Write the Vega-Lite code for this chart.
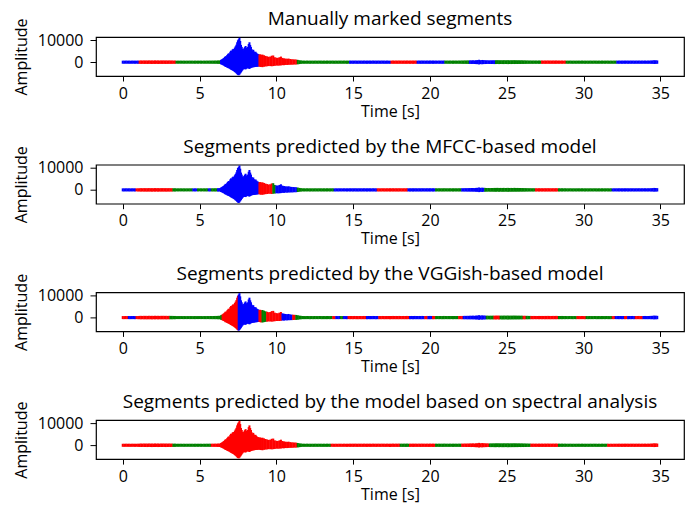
{
"$schema":"https://vega.github.io/schema/vega-lite/v6.json",
"padding":{"top":9,"left":12,"right":5,"bottom":0},
"bounds":"flush",
"spacing":88.7,
"config":{"font":"Open Sans","view":{"stroke":"#000","strokeWidth":1.2},
"axis":{"grid":false,"domain":false,"ticks":true,"tickColor":"#000","tickSize":5,"tickWidth":1,"labelFontSize":16,"titleFontSize":16,"labelColor":"#000","titleColor":"#000","titleFontWeight":"normal","labelPadding":4},
"axisY":{"titlePadding":8,"tickSize":6,"labelPadding":7},"axisX":{"titlePadding":2},
"title":{"fontSize":19,"fontWeight":"normal","color":"#000","offset":-11,"frame":"group","baseline":"alphabetic"}},
"data":{"values":[
{"t":0,"lo":-230,"hi":250,"m1":"b","m2":"b","m3":"r","m4":"r"},
{"t":0.1,"lo":-250,"hi":240,"m1":"b","m2":"b","m3":"r","m4":"r"},
{"t":0.2,"lo":-220,"hi":270,"m1":"b","m2":"b","m3":"r","m4":"r"},
{"t":0.3,"lo":-240,"hi":250,"m1":"b","m2":"b","m3":"r","m4":"r"},
{"t":0.4,"lo":-230,"hi":260,"m1":"b","m2":"b","m3":"b","m4":"r"},
{"t":0.5,"lo":-260,"hi":240,"m1":"b","m2":"b","m3":"b","m4":"r"},
{"t":0.6,"lo":-220,"hi":250,"m1":"b","m2":"b","m3":"b","m4":"r"},
{"t":0.7,"lo":-240,"hi":270,"m1":"b","m2":"b","m3":"b","m4":"r"},
{"t":0.8,"lo":-250,"hi":230,"m1":"b","m2":"b","m3":"b","m4":"r"},
{"t":0.9,"lo":-230,"hi":260,"m1":"b","m2":"r","m3":"r","m4":"r"},
{"t":1.0,"lo":-260,"hi":250,"m1":"b","m2":"r","m3":"r","m4":"r"},
{"t":1.1,"lo":-300,"hi":320,"m1":"r","m2":"r","m3":"r","m4":"r"},
{"t":1.2,"lo":-320,"hi":340,"m1":"r","m2":"r","m3":"r","m4":"r"},
{"t":1.3,"lo":-290,"hi":310,"m1":"r","m2":"r","m3":"r","m4":"r"},
{"t":1.4,"lo":-330,"hi":350,"m1":"r","m2":"r","m3":"r","m4":"r"},
{"t":1.5,"lo":-310,"hi":330,"m1":"r","m2":"r","m3":"r","m4":"r"},
{"t":1.6,"lo":-340,"hi":320,"m1":"r","m2":"r","m3":"r","m4":"r"},
{"t":1.7,"lo":-300,"hi":360,"m1":"r","m2":"r","m3":"r","m4":"r"},
{"t":1.8,"lo":-320,"hi":330,"m1":"r","m2":"r","m3":"r","m4":"r"},
{"t":1.9,"lo":-350,"hi":340,"m1":"r","m2":"r","m3":"r","m4":"r"},
{"t":2.0,"lo":-310,"hi":320,"m1":"r","m2":"r","m3":"r","m4":"r"},
{"t":2.1,"lo":-330,"hi":370,"m1":"r","m2":"r","m3":"r","m4":"r"},
{"t":2.2,"lo":-300,"hi":330,"m1":"r","m2":"r","m3":"r","m4":"r"},
{"t":2.3,"lo":-340,"hi":350,"m1":"r","m2":"r","m3":"r","m4":"r"},
{"t":2.4,"lo":-320,"hi":320,"m1":"r","m2":"r","m3":"r","m4":"r"},
{"t":2.5,"lo":-310,"hi":340,"m1":"r","m2":"r","m3":"r","m4":"r"},
{"t":2.6,"lo":-330,"hi":360,"m1":"r","m2":"r","m3":"r","m4":"r"},
{"t":2.7,"lo":-300,"hi":330,"m1":"r","m2":"r","m3":"r","m4":"r"},
{"t":2.8,"lo":-340,"hi":350,"m1":"r","m2":"r","m3":"r","m4":"r"},
{"t":2.9,"lo":-320,"hi":320,"m1":"r","m2":"r","m3":"r","m4":"r"},
{"t":3.0,"lo":-300,"hi":340,"m1":"r","m2":"r","m3":"r","m4":"r"},
{"t":3.1,"lo":-310,"hi":330,"m1":"r","m2":"r","m3":"g","m4":"r"},
{"t":3.2,"lo":-290,"hi":310,"m1":"r","m2":"r","m3":"g","m4":"r"},
{"t":3.3,"lo":-280,"hi":300,"m1":"r","m2":"g","m3":"g","m4":"g"},
{"t":3.4,"lo":-270,"hi":290,"m1":"r","m2":"g","m3":"g","m4":"g"},
{"t":3.5,"lo":-220,"hi":240,"m1":"g","m2":"g","m3":"g","m4":"g"},
{"t":3.6,"lo":-210,"hi":230,"m1":"g","m2":"g","m3":"g","m4":"g"},
{"t":3.7,"lo":-230,"hi":250,"m1":"g","m2":"g","m3":"g","m4":"g"},
{"t":3.8,"lo":-200,"hi":240,"m1":"g","m2":"g","m3":"g","m4":"g"},
{"t":3.9,"lo":-220,"hi":230,"m1":"g","m2":"g","m3":"g","m4":"g"},
{"t":4.0,"lo":-230,"hi":250,"m1":"g","m2":"g","m3":"g","m4":"g"},
{"t":4.1,"lo":-210,"hi":220,"m1":"g","m2":"g","m3":"g","m4":"g"},
{"t":4.2,"lo":-220,"hi":240,"m1":"g","m2":"g","m3":"g","m4":"g"},
{"t":4.3,"lo":-200,"hi":230,"m1":"g","m2":"g","m3":"g","m4":"g"},
{"t":4.4,"lo":-230,"hi":250,"m1":"g","m2":"g","m3":"g","m4":"g"},
{"t":4.5,"lo":-210,"hi":240,"m1":"g","m2":"g","m3":"g","m4":"g"},
{"t":4.6,"lo":-220,"hi":230,"m1":"g","m2":"b","m3":"g","m4":"g"},
{"t":4.7,"lo":-230,"hi":250,"m1":"g","m2":"b","m3":"g","m4":"g"},
{"t":4.8,"lo":-210,"hi":240,"m1":"g","m2":"b","m3":"g","m4":"g"},
{"t":4.9,"lo":-220,"hi":230,"m1":"g","m2":"g","m3":"g","m4":"g"},
{"t":5.0,"lo":-200,"hi":250,"m1":"g","m2":"g","m3":"g","m4":"g"},
{"t":5.1,"lo":-230,"hi":240,"m1":"g","m2":"g","m3":"g","m4":"g"},
{"t":5.2,"lo":-210,"hi":220,"m1":"g","m2":"g","m3":"g","m4":"g"},
{"t":5.3,"lo":-220,"hi":250,"m1":"g","m2":"g","m3":"g","m4":"g"},
{"t":5.4,"lo":-240,"hi":240,"m1":"g","m2":"g","m3":"g","m4":"g"},
{"t":5.5,"lo":-220,"hi":260,"m1":"g","m2":"g","m3":"g","m4":"g"},
{"t":5.6,"lo":-230,"hi":250,"m1":"g","m2":"b","m3":"g","m4":"g"},
{"t":5.7,"lo":-250,"hi":270,"m1":"g","m2":"b","m3":"g","m4":"g"},
{"t":5.8,"lo":-240,"hi":260,"m1":"g","m2":"g","m3":"g","m4":"r"},
{"t":5.9,"lo":-260,"hi":280,"m1":"g","m2":"g","m3":"g","m4":"r"},
{"t":6.0,"lo":-250,"hi":290,"m1":"g","m2":"g","m3":"g","m4":"r"},
{"t":6.1,"lo":-270,"hi":300,"m1":"g","m2":"g","m3":"g","m4":"r"},
{"t":6.2,"lo":-290,"hi":330,"m1":"g","m2":"b","m3":"g","m4":"r"},
{"t":6.3,"lo":-320,"hi":380,"m1":"g","m2":"b","m3":"g","m4":"r"},
{"t":6.4,"lo":-500,"hi":600,"m1":"b","m2":"b","m3":"g","m4":"r"},
{"t":6.45,"lo":-600,"hi":800,"m1":"b","m2":"b","m3":"g","m4":"r"},
{"t":6.5,"lo":-800,"hi":1000,"m1":"b","m2":"b","m3":"r","m4":"r"},
{"t":6.55,"lo":-1000,"hi":1300,"m1":"b","m2":"b","m3":"r","m4":"r"},
{"t":6.6,"lo":-1100,"hi":1500,"m1":"b","m2":"b","m3":"r","m4":"r"},
{"t":6.65,"lo":-1400,"hi":1900,"m1":"b","m2":"b","m3":"r","m4":"r"},
{"t":6.7,"lo":-1700,"hi":2300,"m1":"b","m2":"b","m3":"r","m4":"r"},
{"t":6.75,"lo":-1600,"hi":2100,"m1":"b","m2":"b","m3":"r","m4":"r"},
{"t":6.8,"lo":-2000,"hi":2800,"m1":"b","m2":"b","m3":"r","m4":"r"},
{"t":6.85,"lo":-2100,"hi":3200,"m1":"b","m2":"b","m3":"r","m4":"r"},
{"t":6.9,"lo":-2300,"hi":3600,"m1":"b","m2":"b","m3":"r","m4":"r"},
{"t":6.95,"lo":-2400,"hi":3300,"m1":"b","m2":"b","m3":"r","m4":"r"},
{"t":7.0,"lo":-2700,"hi":4300,"m1":"b","m2":"b","m3":"r","m4":"r"},
{"t":7.05,"lo":-2900,"hi":4800,"m1":"b","m2":"b","m3":"r","m4":"r"},
{"t":7.1,"lo":-3100,"hi":4500,"m1":"b","m2":"b","m3":"r","m4":"r"},
{"t":7.15,"lo":-3300,"hi":5300,"m1":"b","m2":"b","m3":"r","m4":"r"},
{"t":7.2,"lo":-3500,"hi":5600,"m1":"b","m2":"b","m3":"r","m4":"r"},
{"t":7.25,"lo":-3700,"hi":5200,"m1":"b","m2":"b","m3":"r","m4":"r"},
{"t":7.3,"lo":-4000,"hi":6200,"m1":"b","m2":"b","m3":"r","m4":"r"},
{"t":7.35,"lo":-4300,"hi":6800,"m1":"b","m2":"b","m3":"r","m4":"r"},
{"t":7.4,"lo":-4600,"hi":7500,"m1":"b","m2":"b","m3":"r","m4":"r"},
{"t":7.45,"lo":-5000,"hi":8600,"m1":"b","m2":"b","m3":"r","m4":"r"},
{"t":7.5,"lo":-5300,"hi":9500,"m1":"b","m2":"b","m3":"r","m4":"r"},
{"t":7.55,"lo":-5500,"hi":10000,"m1":"b","m2":"b","m3":"b","m4":"r"},
{"t":7.6,"lo":-5200,"hi":10650,"m1":"b","m2":"b","m3":"b","m4":"r"},
{"t":7.65,"lo":-4700,"hi":9200,"m1":"b","m2":"b","m3":"b","m4":"r"},
{"t":7.7,"lo":-4200,"hi":7400,"m1":"b","m2":"b","m3":"b","m4":"r"},
{"t":7.75,"lo":-3700,"hi":6500,"m1":"b","m2":"b","m3":"b","m4":"r"},
{"t":7.8,"lo":-3200,"hi":5600,"m1":"b","m2":"b","m3":"b","m4":"r"},
{"t":7.85,"lo":-2800,"hi":4900,"m1":"b","m2":"b","m3":"b","m4":"r"},
{"t":7.9,"lo":-2600,"hi":5800,"m1":"b","m2":"b","m3":"b","m4":"r"},
{"t":7.95,"lo":-2700,"hi":6400,"m1":"b","m2":"b","m3":"b","m4":"r"},
{"t":8.0,"lo":-2800,"hi":6900,"m1":"b","m2":"b","m3":"b","m4":"r"},
{"t":8.05,"lo":-2500,"hi":6100,"m1":"b","m2":"b","m3":"b","m4":"r"},
{"t":8.1,"lo":-2300,"hi":5300,"m1":"b","m2":"b","m3":"b","m4":"r"},
{"t":8.15,"lo":-2200,"hi":6500,"m1":"b","m2":"b","m3":"b","m4":"r"},
{"t":8.2,"lo":-2400,"hi":7800,"m1":"b","m2":"b","m3":"b","m4":"r"},
{"t":8.25,"lo":-2600,"hi":8600,"m1":"b","m2":"b","m3":"b","m4":"r"},
{"t":8.3,"lo":-2300,"hi":7400,"m1":"b","m2":"b","m3":"b","m4":"r"},
{"t":8.35,"lo":-2100,"hi":6500,"m1":"b","m2":"b","m3":"b","m4":"r"},
{"t":8.4,"lo":-2000,"hi":5400,"m1":"b","m2":"b","m3":"b","m4":"r"},
{"t":8.45,"lo":-1900,"hi":4700,"m1":"b","m2":"b","m3":"b","m4":"r"},
{"t":8.5,"lo":-1800,"hi":5200,"m1":"b","m2":"b","m3":"b","m4":"r"},
{"t":8.55,"lo":-1800,"hi":4400,"m1":"b","m2":"b","m3":"b","m4":"r"},
{"t":8.6,"lo":-1700,"hi":3900,"m1":"b","m2":"b","m3":"b","m4":"r"},
{"t":8.65,"lo":-1700,"hi":4300,"m1":"b","m2":"b","m3":"b","m4":"r"},
{"t":8.7,"lo":-1600,"hi":3800,"m1":"b","m2":"b","m3":"b","m4":"r"},
{"t":8.75,"lo":-1600,"hi":3400,"m1":"b","m2":"b","m3":"b","m4":"r"},
{"t":8.8,"lo":-1500,"hi":3300,"m1":"b","m2":"b","m3":"b","m4":"r"},
{"t":8.85,"lo":-1500,"hi":3100,"m1":"b","m2":"b","m3":"b","m4":"r"},
{"t":8.9,"lo":-1500,"hi":3000,"m1":"r","m2":"r","m3":"r","m4":"r"},
{"t":8.95,"lo":-1600,"hi":3100,"m1":"r","m2":"r","m3":"r","m4":"r"},
{"t":9.0,"lo":-1700,"hi":2900,"m1":"r","m2":"r","m3":"r","m4":"r"},
{"t":9.1,"lo":-1800,"hi":3000,"m1":"r","m2":"r","m3":"g","m4":"r"},
{"t":9.2,"lo":-1600,"hi":2700,"m1":"r","m2":"r","m3":"g","m4":"r"},
{"t":9.3,"lo":-1500,"hi":2400,"m1":"r","m2":"r","m3":"g","m4":"r"},
{"t":9.4,"lo":-1400,"hi":2200,"m1":"r","m2":"r","m3":"r","m4":"r"},
{"t":9.5,"lo":-1300,"hi":2000,"m1":"r","m2":"r","m3":"r","m4":"r"},
{"t":9.6,"lo":-1300,"hi":2100,"m1":"r","m2":"r","m3":"r","m4":"r"},
{"t":9.7,"lo":-1400,"hi":2500,"m1":"r","m2":"r","m3":"r","m4":"r"},
{"t":9.8,"lo":-1300,"hi":2600,"m1":"r","m2":"g","m3":"r","m4":"r"},
{"t":9.9,"lo":-1200,"hi":1800,"m1":"r","m2":"g","m3":"r","m4":"r"},
{"t":10.0,"lo":-1100,"hi":1600,"m1":"r","m2":"b","m3":"r","m4":"r"},
{"t":10.1,"lo":-1100,"hi":1500,"m1":"r","m2":"b","m3":"r","m4":"r"},
{"t":10.2,"lo":-1100,"hi":1800,"m1":"r","m2":"b","m3":"r","m4":"r"},
{"t":10.3,"lo":-1000,"hi":2100,"m1":"r","m2":"b","m3":"r","m4":"r"},
{"t":10.4,"lo":-900,"hi":1500,"m1":"r","m2":"b","m3":"b","m4":"r"},
{"t":10.5,"lo":-900,"hi":1300,"m1":"r","m2":"b","m3":"b","m4":"r"},
{"t":10.6,"lo":-800,"hi":1200,"m1":"r","m2":"b","m3":"b","m4":"r"},
{"t":10.7,"lo":-800,"hi":1100,"m1":"r","m2":"b","m3":"b","m4":"r"},
{"t":10.8,"lo":-750,"hi":1200,"m1":"r","m2":"b","m3":"b","m4":"r"},
{"t":10.9,"lo":-700,"hi":1000,"m1":"r","m2":"b","m3":"b","m4":"r"},
{"t":11.0,"lo":-700,"hi":900,"m1":"r","m2":"b","m3":"b","m4":"r"},
{"t":11.1,"lo":-650,"hi":850,"m1":"r","m2":"b","m3":"r","m4":"r"},
{"t":11.2,"lo":-600,"hi":800,"m1":"r","m2":"b","m3":"r","m4":"r"},
{"t":11.3,"lo":-600,"hi":750,"m1":"r","m2":"b","m3":"g","m4":"r"},
{"t":11.4,"lo":-500,"hi":600,"m1":"g","m2":"g","m3":"g","m4":"g"},
{"t":11.5,"lo":-400,"hi":450,"m1":"g","m2":"g","m3":"g","m4":"g"},
{"t":11.6,"lo":-300,"hi":350,"m1":"g","m2":"g","m3":"g","m4":"g"},
{"t":11.7,"lo":-250,"hi":280,"m1":"g","m2":"g","m3":"g","m4":"g"},
{"t":11.8,"lo":-230,"hi":250,"m1":"g","m2":"g","m3":"g","m4":"g"},
{"t":11.9,"lo":-250,"hi":240,"m1":"g","m2":"g","m3":"g","m4":"g"},
{"t":12.0,"lo":-220,"hi":270,"m1":"g","m2":"g","m3":"g","m4":"g"},
{"t":12.1,"lo":-240,"hi":250,"m1":"g","m2":"g","m3":"g","m4":"g"},
{"t":12.2,"lo":-260,"hi":240,"m1":"g","m2":"g","m3":"g","m4":"g"},
{"t":12.3,"lo":-230,"hi":260,"m1":"g","m2":"g","m3":"g","m4":"g"},
{"t":12.4,"lo":-250,"hi":230,"m1":"g","m2":"g","m3":"g","m4":"g"},
{"t":12.5,"lo":-240,"hi":270,"m1":"g","m2":"g","m3":"g","m4":"g"},
{"t":12.6,"lo":-230,"hi":250,"m1":"g","m2":"g","m3":"g","m4":"g"},
{"t":12.7,"lo":-250,"hi":240,"m1":"g","m2":"g","m3":"g","m4":"g"},
{"t":12.8,"lo":-220,"hi":270,"m1":"g","m2":"g","m3":"g","m4":"g"},
{"t":12.9,"lo":-240,"hi":250,"m1":"g","m2":"g","m3":"g","m4":"g"},
{"t":13.0,"lo":-260,"hi":240,"m1":"g","m2":"g","m3":"g","m4":"g"},
{"t":13.1,"lo":-230,"hi":260,"m1":"g","m2":"g","m3":"g","m4":"g"},
{"t":13.2,"lo":-250,"hi":230,"m1":"g","m2":"g","m3":"g","m4":"g"},
{"t":13.3,"lo":-240,"hi":270,"m1":"g","m2":"g","m3":"g","m4":"g"},
{"t":13.4,"lo":-230,"hi":250,"m1":"g","m2":"g","m3":"g","m4":"g"},
{"t":13.5,"lo":-250,"hi":240,"m1":"g","m2":"g","m3":"g","m4":"g"},
{"t":13.6,"lo":-220,"hi":270,"m1":"g","m2":"g","m3":"g","m4":"r"},
{"t":13.7,"lo":-240,"hi":250,"m1":"g","m2":"g","m3":"r","m4":"r"},
{"t":13.8,"lo":-260,"hi":240,"m1":"g","m2":"b","m3":"r","m4":"r"},
{"t":13.9,"lo":-230,"hi":260,"m1":"g","m2":"b","m3":"b","m4":"r"},
{"t":14.0,"lo":-250,"hi":230,"m1":"g","m2":"b","m3":"b","m4":"r"},
{"t":14.1,"lo":-240,"hi":270,"m1":"g","m2":"b","m3":"b","m4":"r"},
{"t":14.2,"lo":-230,"hi":250,"m1":"g","m2":"b","m3":"g","m4":"r"},
{"t":14.3,"lo":-250,"hi":240,"m1":"g","m2":"b","m3":"g","m4":"r"},
{"t":14.4,"lo":-220,"hi":270,"m1":"g","m2":"b","m3":"b","m4":"r"},
{"t":14.5,"lo":-240,"hi":250,"m1":"g","m2":"b","m3":"b","m4":"r"},
{"t":14.6,"lo":-260,"hi":240,"m1":"g","m2":"b","m3":"b","m4":"r"},
{"t":14.7,"lo":-230,"hi":260,"m1":"g","m2":"b","m3":"r","m4":"r"},
{"t":14.8,"lo":-260,"hi":270,"m1":"b","m2":"b","m3":"r","m4":"r"},
{"t":14.9,"lo":-250,"hi":280,"m1":"b","m2":"b","m3":"r","m4":"r"},
{"t":15.0,"lo":-270,"hi":260,"m1":"b","m2":"b","m3":"r","m4":"r"},
{"t":15.1,"lo":-240,"hi":290,"m1":"b","m2":"b","m3":"r","m4":"r"},
{"t":15.2,"lo":-260,"hi":270,"m1":"b","m2":"b","m3":"r","m4":"r"},
{"t":15.3,"lo":-280,"hi":260,"m1":"b","m2":"b","m3":"r","m4":"r"},
{"t":15.4,"lo":-250,"hi":280,"m1":"b","m2":"b","m3":"r","m4":"r"},
{"t":15.5,"lo":-260,"hi":270,"m1":"b","m2":"b","m3":"r","m4":"r"},
{"t":15.6,"lo":-270,"hi":260,"m1":"b","m2":"b","m3":"r","m4":"r"},
{"t":15.7,"lo":-250,"hi":290,"m1":"b","m2":"b","m3":"r","m4":"r"},
{"t":15.8,"lo":-260,"hi":270,"m1":"b","m2":"b","m3":"r","m4":"r"},
{"t":15.9,"lo":-280,"hi":260,"m1":"b","m2":"b","m3":"b","m4":"r"},
{"t":16.0,"lo":-250,"hi":280,"m1":"b","m2":"b","m3":"b","m4":"r"},
{"t":16.1,"lo":-260,"hi":270,"m1":"b","m2":"b","m3":"b","m4":"r"},
{"t":16.2,"lo":-270,"hi":260,"m1":"b","m2":"b","m3":"b","m4":"r"},
{"t":16.3,"lo":-240,"hi":290,"m1":"b","m2":"b","m3":"b","m4":"r"},
{"t":16.4,"lo":-260,"hi":270,"m1":"b","m2":"b","m3":"b","m4":"r"},
{"t":16.5,"lo":-280,"hi":260,"m1":"b","m2":"b","m3":"b","m4":"r"},
{"t":16.6,"lo":-250,"hi":280,"m1":"b","m2":"r","m3":"b","m4":"r"},
{"t":16.7,"lo":-260,"hi":270,"m1":"b","m2":"r","m3":"r","m4":"r"},
{"t":16.8,"lo":-270,"hi":260,"m1":"b","m2":"r","m3":"r","m4":"r"},
{"t":16.9,"lo":-250,"hi":290,"m1":"b","m2":"r","m3":"r","m4":"r"},
{"t":17.0,"lo":-260,"hi":270,"m1":"b","m2":"r","m3":"r","m4":"r"},
{"t":17.1,"lo":-280,"hi":260,"m1":"b","m2":"r","m3":"r","m4":"r"},
{"t":17.2,"lo":-250,"hi":280,"m1":"b","m2":"r","m3":"r","m4":"r"},
{"t":17.3,"lo":-260,"hi":270,"m1":"b","m2":"r","m3":"r","m4":"r"},
{"t":17.4,"lo":-270,"hi":260,"m1":"b","m2":"r","m3":"r","m4":"r"},
{"t":17.5,"lo":-270,"hi":280,"m1":"r","m2":"r","m3":"r","m4":"r"},
{"t":17.6,"lo":-260,"hi":300,"m1":"r","m2":"r","m3":"r","m4":"r"},
{"t":17.7,"lo":-280,"hi":270,"m1":"r","m2":"r","m3":"r","m4":"r"},
{"t":17.8,"lo":-260,"hi":290,"m1":"r","m2":"r","m3":"r","m4":"r"},
{"t":17.9,"lo":-290,"hi":280,"m1":"r","m2":"r","m3":"r","m4":"r"},
{"t":18.0,"lo":-270,"hi":300,"m1":"r","m2":"r","m3":"r","m4":"r"},
{"t":18.1,"lo":-260,"hi":280,"m1":"r","m2":"r","m3":"r","m4":"g"},
{"t":18.2,"lo":-280,"hi":270,"m1":"r","m2":"r","m3":"r","m4":"g"},
{"t":18.3,"lo":-260,"hi":290,"m1":"r","m2":"r","m3":"r","m4":"g"},
{"t":18.4,"lo":-290,"hi":280,"m1":"r","m2":"r","m3":"r","m4":"g"},
{"t":18.5,"lo":-270,"hi":300,"m1":"r","m2":"r","m3":"r","m4":"g"},
{"t":18.6,"lo":-260,"hi":280,"m1":"r","m2":"b","m3":"r","m4":"g"},
{"t":18.7,"lo":-280,"hi":270,"m1":"r","m2":"b","m3":"b","m4":"r"},
{"t":18.8,"lo":-260,"hi":290,"m1":"r","m2":"b","m3":"b","m4":"r"},
{"t":18.9,"lo":-290,"hi":280,"m1":"r","m2":"b","m3":"b","m4":"r"},
{"t":19.0,"lo":-270,"hi":300,"m1":"r","m2":"b","m3":"b","m4":"r"},
{"t":19.1,"lo":-260,"hi":280,"m1":"r","m2":"b","m3":"b","m4":"r"},
{"t":19.2,"lo":-280,"hi":270,"m1":"b","m2":"b","m3":"b","m4":"r"},
{"t":19.3,"lo":-260,"hi":290,"m1":"b","m2":"b","m3":"b","m4":"r"},
{"t":19.4,"lo":-290,"hi":280,"m1":"b","m2":"b","m3":"b","m4":"r"},
{"t":19.5,"lo":-270,"hi":300,"m1":"b","m2":"b","m3":"b","m4":"r"},
{"t":19.6,"lo":-260,"hi":280,"m1":"b","m2":"b","m3":"b","m4":"r"},
{"t":19.7,"lo":-280,"hi":270,"m1":"b","m2":"b","m3":"r","m4":"r"},
{"t":19.8,"lo":-260,"hi":290,"m1":"b","m2":"b","m3":"r","m4":"r"},
{"t":19.9,"lo":-290,"hi":280,"m1":"b","m2":"b","m3":"b","m4":"r"},
{"t":20.0,"lo":-270,"hi":300,"m1":"b","m2":"b","m3":"b","m4":"r"},
{"t":20.1,"lo":-260,"hi":280,"m1":"b","m2":"b","m3":"b","m4":"r"},
{"t":20.2,"lo":-280,"hi":290,"m1":"b","m2":"b","m3":"r","m4":"r"},
{"t":20.3,"lo":-270,"hi":280,"m1":"b","m2":"b","m3":"r","m4":"r"},
{"t":20.4,"lo":-250,"hi":270,"m1":"b","m2":"g","m3":"g","m4":"g"},
{"t":20.5,"lo":-240,"hi":260,"m1":"b","m2":"g","m3":"g","m4":"g"},
{"t":20.6,"lo":-260,"hi":280,"m1":"b","m2":"g","m3":"g","m4":"g"},
{"t":20.7,"lo":-250,"hi":270,"m1":"b","m2":"g","m3":"g","m4":"g"},
{"t":20.8,"lo":-270,"hi":260,"m1":"b","m2":"g","m3":"g","m4":"g"},
{"t":20.9,"lo":-260,"hi":300,"m1":"b","m2":"g","m3":"g","m4":"g"},
{"t":21.0,"lo":-250,"hi":280,"m1":"g","m2":"g","m3":"g","m4":"g"},
{"t":21.1,"lo":-240,"hi":260,"m1":"g","m2":"g","m3":"g","m4":"g"},
{"t":21.2,"lo":-260,"hi":270,"m1":"g","m2":"g","m3":"g","m4":"g"},
{"t":21.3,"lo":-250,"hi":280,"m1":"g","m2":"g","m3":"g","m4":"g"},
{"t":21.4,"lo":-240,"hi":260,"m1":"g","m2":"g","m3":"g","m4":"g"},
{"t":21.5,"lo":-270,"hi":270,"m1":"g","m2":"g","m3":"g","m4":"g"},
{"t":21.6,"lo":-250,"hi":280,"m1":"g","m2":"g","m3":"g","m4":"g"},
{"t":21.7,"lo":-240,"hi":260,"m1":"g","m2":"g","m3":"g","m4":"g"},
{"t":21.8,"lo":-260,"hi":270,"m1":"g","m2":"g","m3":"g","m4":"g"},
{"t":21.9,"lo":-250,"hi":280,"m1":"g","m2":"g","m3":"r","m4":"g"},
{"t":22.0,"lo":-270,"hi":290,"m1":"g","m2":"g","m3":"r","m4":"g"},
{"t":22.1,"lo":-280,"hi":300,"m1":"g","m2":"b","m3":"r","m4":"r"},
{"t":22.2,"lo":-300,"hi":320,"m1":"g","m2":"b","m3":"b","m4":"r"},
{"t":22.3,"lo":-290,"hi":340,"m1":"g","m2":"b","m3":"b","m4":"r"},
{"t":22.4,"lo":-310,"hi":330,"m1":"g","m2":"b","m3":"b","m4":"r"},
{"t":22.5,"lo":-330,"hi":360,"m1":"g","m2":"b","m3":"b","m4":"r"},
{"t":22.6,"lo":-320,"hi":380,"m1":"b","m2":"b","m3":"b","m4":"r"},
{"t":22.7,"lo":-350,"hi":400,"m1":"b","m2":"b","m3":"b","m4":"r"},
{"t":22.8,"lo":-330,"hi":420,"m1":"b","m2":"b","m3":"b","m4":"r"},
{"t":22.9,"lo":-370,"hi":380,"m1":"b","m2":"b","m3":"b","m4":"r"},
{"t":23.0,"lo":-400,"hi":450,"m1":"b","m2":"b","m3":"b","m4":"r"},
{"t":23.1,"lo":-450,"hi":520,"m1":"b","m2":"b","m3":"b","m4":"r"},
{"t":23.2,"lo":-550,"hi":650,"m1":"b","m2":"b","m3":"b","m4":"r"},
{"t":23.3,"lo":-420,"hi":480,"m1":"b","m2":"b","m3":"b","m4":"r"},
{"t":23.4,"lo":-480,"hi":560,"m1":"b","m2":"b","m3":"b","m4":"r"},
{"t":23.5,"lo":-400,"hi":500,"m1":"b","m2":"b","m3":"b","m4":"r"},
{"t":23.6,"lo":-380,"hi":450,"m1":"b","m2":"g","m3":"b","m4":"r"},
{"t":23.7,"lo":-350,"hi":420,"m1":"b","m2":"g","m3":"g","m4":"r"},
{"t":23.8,"lo":-330,"hi":400,"m1":"b","m2":"g","m3":"g","m4":"r"},
{"t":23.9,"lo":-350,"hi":380,"m1":"b","m2":"g","m3":"g","m4":"g"},
{"t":24.0,"lo":-370,"hi":420,"m1":"b","m2":"g","m3":"g","m4":"g"},
{"t":24.1,"lo":-340,"hi":400,"m1":"b","m2":"g","m3":"g","m4":"g"},
{"t":24.2,"lo":-400,"hi":450,"m1":"b","m2":"g","m3":"r","m4":"g"},
{"t":24.3,"lo":-380,"hi":430,"m1":"g","m2":"g","m3":"r","m4":"g"},
{"t":24.4,"lo":-350,"hi":480,"m1":"g","m2":"g","m3":"r","m4":"g"},
{"t":24.5,"lo":-400,"hi":420,"m1":"g","m2":"g","m3":"r","m4":"g"},
{"t":24.6,"lo":-360,"hi":450,"m1":"g","m2":"g","m3":"g","m4":"g"},
{"t":24.7,"lo":-380,"hi":400,"m1":"g","m2":"g","m3":"g","m4":"g"},
{"t":24.8,"lo":-400,"hi":470,"m1":"g","m2":"g","m3":"g","m4":"g"},
{"t":24.9,"lo":-350,"hi":420,"m1":"g","m2":"g","m3":"g","m4":"g"},
{"t":25.0,"lo":-380,"hi":440,"m1":"g","m2":"g","m3":"g","m4":"g"},
{"t":25.1,"lo":-420,"hi":460,"m1":"g","m2":"g","m3":"g","m4":"g"},
{"t":25.2,"lo":-360,"hi":400,"m1":"g","m2":"g","m3":"g","m4":"g"},
{"t":25.3,"lo":-390,"hi":450,"m1":"g","m2":"g","m3":"g","m4":"g"},
{"t":25.4,"lo":-350,"hi":420,"m1":"g","m2":"g","m3":"g","m4":"g"},
{"t":25.5,"lo":-380,"hi":480,"m1":"g","m2":"g","m3":"g","m4":"g"},
{"t":25.6,"lo":-340,"hi":410,"m1":"g","m2":"g","m3":"g","m4":"g"},
{"t":25.7,"lo":-370,"hi":440,"m1":"g","m2":"g","m3":"g","m4":"g"},
{"t":25.8,"lo":-330,"hi":400,"m1":"g","m2":"g","m3":"g","m4":"g"},
{"t":25.9,"lo":-350,"hi":420,"m1":"g","m2":"g","m3":"g","m4":"g"},
{"t":26.0,"lo":-320,"hi":390,"m1":"g","m2":"g","m3":"g","m4":"g"},
{"t":26.1,"lo":-340,"hi":380,"m1":"g","m2":"g","m3":"r","m4":"g"},
{"t":26.2,"lo":-310,"hi":360,"m1":"g","m2":"g","m3":"r","m4":"g"},
{"t":26.3,"lo":-300,"hi":340,"m1":"g","m2":"g","m3":"g","m4":"g"},
{"t":26.4,"lo":-290,"hi":320,"m1":"g","m2":"g","m3":"g","m4":"g"},
{"t":26.5,"lo":-280,"hi":310,"m1":"g","m2":"g","m3":"g","m4":"g"},
{"t":26.6,"lo":-270,"hi":300,"m1":"g","m2":"g","m3":"r","m4":"r"},
{"t":26.7,"lo":-280,"hi":290,"m1":"g","m2":"g","m3":"r","m4":"r"},
{"t":26.8,"lo":-260,"hi":300,"m1":"g","m2":"g","m3":"r","m4":"r"},
{"t":26.9,"lo":-270,"hi":290,"m1":"g","m2":"r","m3":"r","m4":"r"},
{"t":27.0,"lo":-260,"hi":280,"m1":"g","m2":"r","m3":"r","m4":"r"},
{"t":27.1,"lo":-280,"hi":300,"m1":"g","m2":"r","m3":"r","m4":"r"},
{"t":27.2,"lo":-270,"hi":290,"m1":"g","m2":"r","m3":"r","m4":"r"},
{"t":27.3,"lo":-280,"hi":300,"m1":"r","m2":"r","m3":"r","m4":"r"},
{"t":27.4,"lo":-270,"hi":290,"m1":"r","m2":"r","m3":"r","m4":"r"},
{"t":27.5,"lo":-290,"hi":310,"m1":"r","m2":"r","m3":"r","m4":"r"},
{"t":27.6,"lo":-280,"hi":300,"m1":"r","m2":"r","m3":"r","m4":"r"},
{"t":27.7,"lo":-270,"hi":320,"m1":"r","m2":"r","m3":"r","m4":"r"},
{"t":27.8,"lo":-290,"hi":300,"m1":"r","m2":"r","m3":"r","m4":"r"},
{"t":27.9,"lo":-280,"hi":290,"m1":"r","m2":"r","m3":"r","m4":"r"},
{"t":28.0,"lo":-270,"hi":310,"m1":"r","m2":"r","m3":"r","m4":"r"},
{"t":28.1,"lo":-290,"hi":300,"m1":"r","m2":"r","m3":"r","m4":"r"},
{"t":28.2,"lo":-280,"hi":320,"m1":"r","m2":"r","m3":"r","m4":"r"},
{"t":28.3,"lo":-270,"hi":300,"m1":"r","m2":"r","m3":"r","m4":"r"},
{"t":28.4,"lo":-260,"hi":280,"m1":"r","m2":"g","m3":"g","m4":"g"},
{"t":28.5,"lo":-250,"hi":270,"m1":"r","m2":"g","m3":"g","m4":"g"},
{"t":28.6,"lo":-260,"hi":290,"m1":"r","m2":"g","m3":"g","m4":"g"},
{"t":28.7,"lo":-240,"hi":260,"m1":"r","m2":"g","m3":"g","m4":"g"},
{"t":28.8,"lo":-250,"hi":280,"m1":"r","m2":"g","m3":"g","m4":"g"},
{"t":28.9,"lo":-230,"hi":250,"m1":"g","m2":"g","m3":"g","m4":"g"},
{"t":29.0,"lo":-250,"hi":240,"m1":"g","m2":"g","m3":"g","m4":"g"},
{"t":29.1,"lo":-220,"hi":270,"m1":"g","m2":"g","m3":"g","m4":"g"},
{"t":29.2,"lo":-240,"hi":250,"m1":"g","m2":"g","m3":"g","m4":"g"},
{"t":29.3,"lo":-260,"hi":240,"m1":"g","m2":"g","m3":"g","m4":"g"},
{"t":29.4,"lo":-230,"hi":260,"m1":"g","m2":"g","m3":"g","m4":"g"},
{"t":29.5,"lo":-250,"hi":230,"m1":"g","m2":"g","m3":"g","m4":"g"},
{"t":29.6,"lo":-240,"hi":270,"m1":"g","m2":"g","m3":"r","m4":"g"},
{"t":29.7,"lo":-230,"hi":250,"m1":"g","m2":"g","m3":"r","m4":"g"},
{"t":29.8,"lo":-250,"hi":240,"m1":"g","m2":"g","m3":"r","m4":"g"},
{"t":29.9,"lo":-220,"hi":270,"m1":"g","m2":"g","m3":"r","m4":"g"},
{"t":30.0,"lo":-240,"hi":250,"m1":"g","m2":"g","m3":"r","m4":"g"},
{"t":30.1,"lo":-260,"hi":240,"m1":"g","m2":"g","m3":"r","m4":"g"},
{"t":30.2,"lo":-230,"hi":260,"m1":"g","m2":"g","m3":"g","m4":"g"},
{"t":30.3,"lo":-250,"hi":230,"m1":"g","m2":"g","m3":"g","m4":"g"},
{"t":30.4,"lo":-240,"hi":270,"m1":"g","m2":"g","m3":"g","m4":"g"},
{"t":30.5,"lo":-230,"hi":250,"m1":"g","m2":"g","m3":"g","m4":"g"},
{"t":30.6,"lo":-250,"hi":240,"m1":"g","m2":"g","m3":"g","m4":"g"},
{"t":30.7,"lo":-220,"hi":270,"m1":"g","m2":"g","m3":"g","m4":"g"},
{"t":30.8,"lo":-240,"hi":250,"m1":"g","m2":"g","m3":"g","m4":"g"},
{"t":30.9,"lo":-260,"hi":240,"m1":"g","m2":"g","m3":"g","m4":"g"},
{"t":31.0,"lo":-230,"hi":260,"m1":"g","m2":"g","m3":"g","m4":"g"},
{"t":31.1,"lo":-250,"hi":230,"m1":"g","m2":"g","m3":"g","m4":"g"},
{"t":31.2,"lo":-240,"hi":270,"m1":"g","m2":"g","m3":"g","m4":"g"},
{"t":31.3,"lo":-230,"hi":250,"m1":"g","m2":"g","m3":"g","m4":"g"},
{"t":31.4,"lo":-250,"hi":240,"m1":"g","m2":"g","m3":"g","m4":"g"},
{"t":31.5,"lo":-220,"hi":270,"m1":"g","m2":"g","m3":"g","m4":"g"},
{"t":31.6,"lo":-240,"hi":250,"m1":"g","m2":"g","m3":"g","m4":"r"},
{"t":31.7,"lo":-260,"hi":240,"m1":"g","m2":"g","m3":"g","m4":"r"},
{"t":31.8,"lo":-230,"hi":260,"m1":"g","m2":"g","m3":"g","m4":"r"},
{"t":31.9,"lo":-250,"hi":230,"m1":"g","m2":"b","m3":"r","m4":"r"},
{"t":32.0,"lo":-240,"hi":270,"m1":"g","m2":"b","m3":"r","m4":"r"},
{"t":32.1,"lo":-230,"hi":250,"m1":"g","m2":"b","m3":"b","m4":"r"},
{"t":32.2,"lo":-250,"hi":260,"m1":"b","m2":"b","m3":"b","m4":"r"},
{"t":32.3,"lo":-260,"hi":280,"m1":"b","m2":"b","m3":"b","m4":"r"},
{"t":32.4,"lo":-240,"hi":270,"m1":"b","m2":"b","m3":"b","m4":"r"},
{"t":32.5,"lo":-270,"hi":260,"m1":"b","m2":"b","m3":"b","m4":"r"},
{"t":32.6,"lo":-250,"hi":280,"m1":"b","m2":"b","m3":"b","m4":"r"},
{"t":32.7,"lo":-260,"hi":270,"m1":"b","m2":"b","m3":"r","m4":"r"},
{"t":32.8,"lo":-240,"hi":290,"m1":"b","m2":"b","m3":"r","m4":"r"},
{"t":32.9,"lo":-270,"hi":260,"m1":"b","m2":"b","m3":"b","m4":"r"},
{"t":33.0,"lo":-250,"hi":280,"m1":"b","m2":"b","m3":"b","m4":"r"},
{"t":33.1,"lo":-260,"hi":270,"m1":"b","m2":"b","m3":"b","m4":"r"},
{"t":33.2,"lo":-240,"hi":290,"m1":"b","m2":"b","m3":"b","m4":"r"},
{"t":33.3,"lo":-270,"hi":260,"m1":"b","m2":"b","m3":"b","m4":"r"},
{"t":33.4,"lo":-250,"hi":280,"m1":"b","m2":"b","m3":"r","m4":"r"},
{"t":33.5,"lo":-260,"hi":270,"m1":"b","m2":"b","m3":"r","m4":"r"},
{"t":33.6,"lo":-240,"hi":290,"m1":"b","m2":"b","m3":"r","m4":"r"},
{"t":33.7,"lo":-270,"hi":260,"m1":"b","m2":"b","m3":"r","m4":"r"},
{"t":33.8,"lo":-250,"hi":280,"m1":"b","m2":"b","m3":"r","m4":"r"},
{"t":33.9,"lo":-260,"hi":270,"m1":"b","m2":"b","m3":"b","m4":"r"},
{"t":34.0,"lo":-240,"hi":290,"m1":"b","m2":"b","m3":"b","m4":"r"},
{"t":34.1,"lo":-270,"hi":260,"m1":"b","m2":"b","m3":"b","m4":"r"},
{"t":34.2,"lo":-250,"hi":280,"m1":"b","m2":"b","m3":"b","m4":"r"},
{"t":34.3,"lo":-260,"hi":300,"m1":"b","m2":"b","m3":"b","m4":"r"},
{"t":34.4,"lo":-280,"hi":320,"m1":"b","m2":"b","m3":"b","m4":"r"},
{"t":34.5,"lo":-300,"hi":380,"m1":"b","m2":"b","m3":"b","m4":"r"},
{"t":34.6,"lo":-350,"hi":450,"m1":"b","m2":"b","m3":"b","m4":"r"},
{"t":34.7,"lo":-320,"hi":420,"m1":"b","m2":"b","m3":"b","m4":"r"},
{"t":34.8,"lo":-280,"hi":350,"m1":"b","m2":"b","m3":"b","m4":"r"}
]},
"vconcat":[
{"title":"Manually marked segments","width":588,"height":39,
"mark":{"type":"rule","strokeWidth":2,"strokeCap":"square"},
"encoding":{
"x":{"field":"t","type":"quantitative","scale":{"domain":[-1.74,36.54],"nice":false,"zero":false},"axis":{"values":[0,5,10,15,20,25,30,35],"title":"Time [s]"}},
"y":{"field":"lo","type":"quantitative","scale":{"domain":[-6270,11450],"nice":false,"zero":false},"axis":{"values":[0,10000],"format":"d","title":"Amplitude"}},
"y2":{"field":"hi"},
"color":{"field":"m1","type":"nominal","scale":{"domain":["b","g","r"],"range":["#0000ff","#008000","#ff0000"]},"legend":null}}},
{"title":"Segments predicted by the MFCC-based model","width":588,"height":39,
"mark":{"type":"rule","strokeWidth":2,"strokeCap":"square"},
"encoding":{
"x":{"field":"t","type":"quantitative","scale":{"domain":[-1.74,36.54],"nice":false,"zero":false},"axis":{"values":[0,5,10,15,20,25,30,35],"title":"Time [s]"}},
"y":{"field":"lo","type":"quantitative","scale":{"domain":[-6270,11450],"nice":false,"zero":false},"axis":{"values":[0,10000],"format":"d","title":"Amplitude"}},
"y2":{"field":"hi"},
"color":{"field":"m2","type":"nominal","scale":{"domain":["b","g","r"],"range":["#0000ff","#008000","#ff0000"]},"legend":null}}},
{"title":"Segments predicted by the VGGish-based model","width":588,"height":39,
"mark":{"type":"rule","strokeWidth":2,"strokeCap":"square"},
"encoding":{
"x":{"field":"t","type":"quantitative","scale":{"domain":[-1.74,36.54],"nice":false,"zero":false},"axis":{"values":[0,5,10,15,20,25,30,35],"title":"Time [s]"}},
"y":{"field":"lo","type":"quantitative","scale":{"domain":[-6270,11450],"nice":false,"zero":false},"axis":{"values":[0,10000],"format":"d","title":"Amplitude"}},
"y2":{"field":"hi"},
"color":{"field":"m3","type":"nominal","scale":{"domain":["b","g","r"],"range":["#0000ff","#008000","#ff0000"]},"legend":null}}},
{"title":"Segments predicted by the model based on spectral analysis","width":588,"height":39,
"mark":{"type":"rule","strokeWidth":2,"strokeCap":"square"},
"encoding":{
"x":{"field":"t","type":"quantitative","scale":{"domain":[-1.74,36.54],"nice":false,"zero":false},"axis":{"values":[0,5,10,15,20,25,30,35],"title":"Time [s]"}},
"y":{"field":"lo","type":"quantitative","scale":{"domain":[-6270,11450],"nice":false,"zero":false},"axis":{"values":[0,10000],"format":"d","title":"Amplitude"}},
"y2":{"field":"hi"},
"color":{"field":"m4","type":"nominal","scale":{"domain":["b","g","r"],"range":["#0000ff","#008000","#ff0000"]},"legend":null}}}
]
}
